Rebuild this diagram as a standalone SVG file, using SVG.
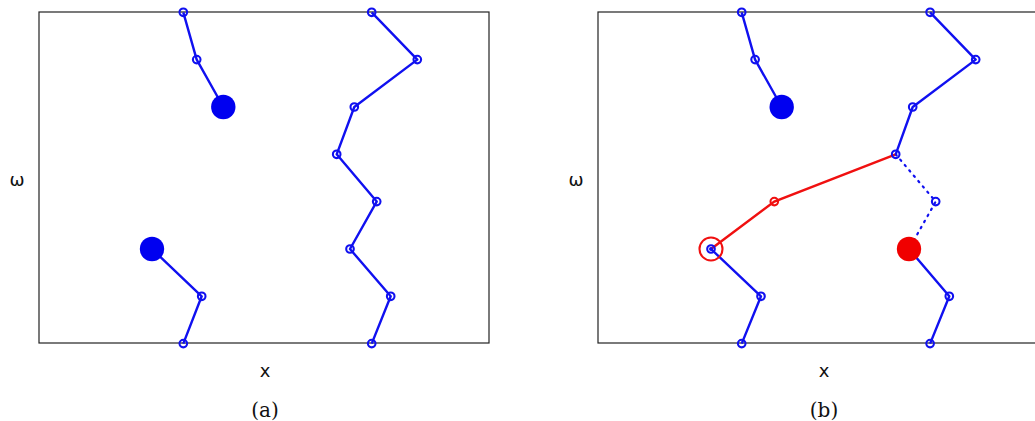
<svg xmlns="http://www.w3.org/2000/svg" width="1035" height="421" viewBox="0 0 1035 421">
<style>
.frame{fill:none;stroke:#222;stroke-width:1.2}
.b{fill:none;stroke:#1010f0;stroke-width:2.4;stroke-linejoin:round}
.r{fill:none;stroke:#f01010;stroke-width:2.4}
.dot{fill:none;stroke:#1010f0;stroke-width:2.2;stroke-dasharray:1.5 5.5;stroke-linecap:round}
.n{fill:none;stroke:#1010f0;stroke-width:2.1}
.nr{fill:none;stroke:#f01010;stroke-width:2.1}
.bigb{fill:#0000f0}
.bigr{fill:#f00000}
.lab{font-family:"DejaVu Sans","Liberation Sans",sans-serif;font-size:18px;fill:#111}
.cap{font-family:"DejaVu Serif","Liberation Serif",serif;font-size:20px;fill:#111}
</style>
<rect width="1035" height="421" fill="#fff"/>
<rect class="frame" x="39" y="12" width="450" height="331"/>
<rect class="frame" x="598" y="12" width="450" height="331"/>
<g id="connectors">
<polyline class="b" points="183.3,12.3 196.7,59.6 223.3,107"/>
<polyline class="b" points="152,249 201.7,296.3 183.3,343.6"/>
<polyline class="b" points="371.7,12.3 417.3,59.6 354.3,107 336.7,154.3 376.7,201.6 350,249 390.7,296.3 371.7,343.6"/>
<polyline class="b" points="741.7,12.3 755.1,59.6 781.7,107"/>
<polyline class="b" points="711,249 761,296.3 741.7,343.6"/>
<polyline class="b" points="930.1,12.3 975.7,59.6 912.7,107 895.7,154.3"/>
<polyline class="b" points="909,249 949.3,296.3 930.1,343.6"/>
<polyline class="r" points="895.7,154.3 774.3,201.6 711,249"/>
<polyline class="dot" points="895.7,154.3 935.7,201.6 909,249"/>
</g>
<g id="panel-a-nodes">
<g id="a1"><circle class="n" cx="183.3" cy="12.3" r="3.8"/></g>
<g id="a2"><circle class="n" cx="196.7" cy="59.6" r="3.8"/></g>
<g id="a3"><circle class="bigb" cx="223.3" cy="107" r="12.2"/></g>
<g id="a4"><circle class="bigb" cx="152" cy="249" r="12.2"/></g>
<g id="a5"><circle class="n" cx="201.7" cy="296.3" r="3.8"/></g>
<g id="a6"><circle class="n" cx="183.3" cy="343.6" r="3.8"/></g>
<g id="a7"><circle class="n" cx="371.7" cy="12.3" r="3.8"/></g>
<g id="a8"><circle class="n" cx="417.3" cy="59.6" r="3.8"/></g>
<g id="a9"><circle class="n" cx="354.3" cy="107" r="3.8"/></g>
<g id="a10"><circle class="n" cx="336.7" cy="154.3" r="3.8"/></g>
<g id="a11"><circle class="n" cx="376.7" cy="201.6" r="3.8"/></g>
<g id="a12"><circle class="n" cx="350" cy="249" r="3.8"/></g>
<g id="a13"><circle class="n" cx="390.7" cy="296.3" r="3.8"/></g>
<g id="a14"><circle class="n" cx="371.7" cy="343.6" r="3.8"/></g>
</g>
<g id="panel-b-nodes">
<g id="b1"><circle class="n" cx="741.7" cy="12.3" r="3.8"/></g>
<g id="b2"><circle class="n" cx="755.1" cy="59.6" r="3.8"/></g>
<g id="b3"><circle class="bigb" cx="781.7" cy="107" r="12.2"/></g>
<g id="b4"><circle class="n" cx="711" cy="249" r="3.8"/><circle cx="711" cy="249" r="2" fill="#1010f0"/><circle class="nr" cx="711" cy="249" r="11.5" stroke-width="1.3"/></g>
<g id="b5"><circle class="n" cx="761" cy="296.3" r="3.8"/></g>
<g id="b6"><circle class="n" cx="741.7" cy="343.6" r="3.8"/></g>
<g id="b7"><circle class="n" cx="930.1" cy="12.3" r="3.8"/></g>
<g id="b8"><circle class="n" cx="975.7" cy="59.6" r="3.8"/></g>
<g id="b9"><circle class="n" cx="912.7" cy="107" r="3.8"/></g>
<g id="b10"><circle class="n" cx="895.7" cy="154.3" r="3.8"/></g>
<g id="b11"><circle class="n" cx="935.7" cy="201.6" r="3.8"/></g>
<g id="b12"><circle class="bigr" cx="909" cy="249" r="12.2"/></g>
<g id="b13"><circle class="n" cx="949.3" cy="296.3" r="3.8"/></g>
<g id="b14"><circle class="n" cx="930.1" cy="343.6" r="3.8"/></g>
<g id="b15"><circle class="nr" cx="774.3" cy="201.6" r="3.8"/></g>
</g>
<g id="labels">
<text class="lab" x="17" y="186" text-anchor="middle">ω</text>
<text class="lab" x="265" y="377" text-anchor="middle">x</text>
<text class="cap" x="265" y="417" text-anchor="middle">(a)</text>
<text class="lab" x="576" y="186" text-anchor="middle">ω</text>
<text class="lab" x="824" y="377" text-anchor="middle">x</text>
<text class="cap" x="824" y="417" text-anchor="middle">(b)</text>
</g>
</svg>
